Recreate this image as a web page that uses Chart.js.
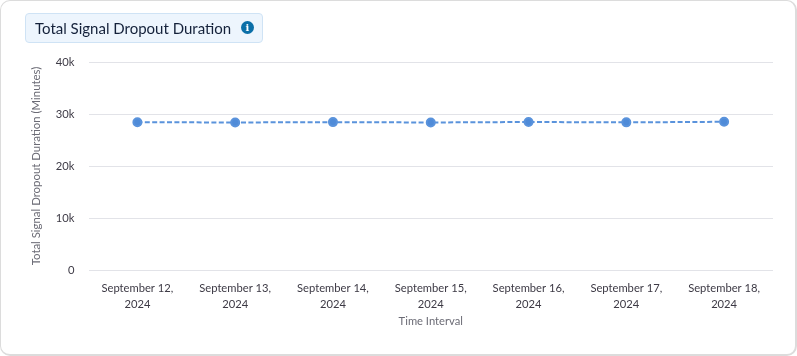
<!DOCTYPE html>
<html>
<head>
<meta charset="utf-8">
<title>Total Signal Dropout Duration</title>
<script src="https://cdn.jsdelivr.net/npm/chart.js@4"></script>
<style>
    html, body { margin: 0; padding: 0; background: #fff; }
    body { width: 797px; height: 356px; overflow: hidden; position: relative; font-family: Lato, sans-serif; }
    .card {
        position: absolute; left: 0; top: 0; width: 794px; height: 353px;
        border: 1px solid #dcdcdc; border-width: 1px 2px 2px 1px;
        border-radius: 10px;
    }
    .title {
        position: absolute; left: 25px; top: 13px; width: 236px; height: 28px;
        background: #edf5fd; border: 1px solid #cfe3f5; border-radius: 4px;
        color: #14213a; font-size: 15px; line-height: 28px; white-space: nowrap;
    }
    .title span { position: absolute; left: 9px; top: 0; }
    .title i {
        position: absolute; left: 215px; top: 7px; width: 13px; height: 13px; border-radius: 50%;
        background: #0b6fa8; color: #fff; font: bold 10px/13px "DejaVu Serif", serif; text-align: center;
    }
    #chart { position: absolute; left: 0; top: 0; }
</style>
</head>
<body>
<div class="card"></div>
<canvas id="chart" width="797" height="356"></canvas>
<div class="title"><span>Total Signal Dropout Duration</span><i>i</i></div>
<script>
    // --- Data ---
    const categories = [
        ['September 12,', '2024'],
        ['September 13,', '2024'],
        ['September 14,', '2024'],
        ['September 15,', '2024'],
        ['September 16,', '2024'],
        ['September 17,', '2024'],
        ['September 18,', '2024']
    ];
    const dropoutMinutes = [28420, 28370, 28440, 28370, 28460, 28390, 28500];
    const yTicks = { 0: '0', 10000: '10k', 20000: '20k', 30000: '30k', 40000: '40k' };

    const tickColor = '#3d3a45';
    const titleColor = '#6b6b75';

    new Chart(document.getElementById('chart'), {
        type: 'line',
        data: {
            labels: categories,
            datasets: [{
                label: 'Total Signal Dropout Duration',
                data: dropoutMinutes,
                borderColor: '#5a93dc',
                backgroundColor: '#4f8bd8',
                borderWidth: 2,
                borderDash: [5, 2.4],
                pointRadius: 4,
                pointHoverRadius: 5,
                tension: 0
            }]
        },
        options: {
            responsive: false,
            animation: false,
            layout: { padding: { top: 62, right: 24, left: 29, bottom: 28 } },
            plugins: { legend: { display: false }, tooltip: { enabled: false } },
            scales: {
                x: {
                    offset: true,
                    grid: { display: false, offset: true },
                    border: { display: false },
                    ticks: { color: tickColor, font: { family: 'Lato', size: 11.2, lineHeight: 1.4 }, maxRotation: 0, autoSkip: false, padding: 3 },
                    title: { display: true, text: 'Time Interval', color: titleColor, font: { family: 'Lato', size: 11.2 }, padding: { top: 5, bottom: 0 } },
                    afterFit: (axis) => { axis.height = 58; }
                },
                y: {
                    min: 0,
                    max: 40000,
                    grid: { color: '#e2e3e8', lineWidth: 1, drawTicks: false },
                    border: { display: false },
                    ticks: {
                        stepSize: 10000,
                        color: tickColor,
                        font: { family: 'Lato', size: 11.2 },
                        padding: 14,
                        callback: (value) => yTicks[value]
                    },
                    title: { display: true, text: 'Total Signal Dropout Duration (Minutes)', color: titleColor, font: { family: 'Lato', size: 11.4 }, padding: { top: 0, bottom: 0 } },
                    afterFit: (axis) => { axis.width = 59.5; }
                }
            }
        }
    });
</script>
</body>
</html>
